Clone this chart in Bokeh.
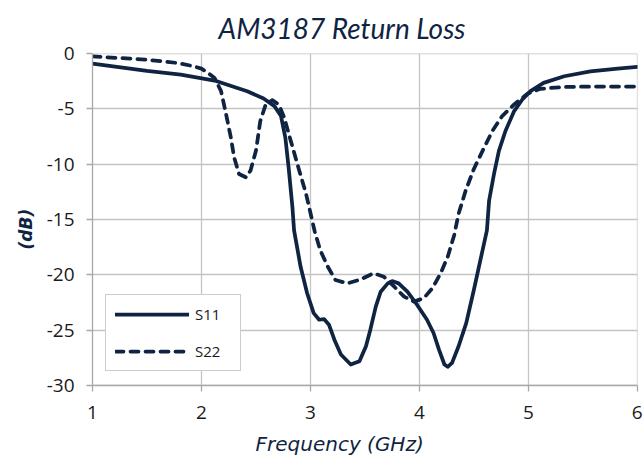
from bokeh.plotting import figure
from bokeh.models import Range1d, FixedTicker, Legend, LegendItem, Title
from bokeh.embed import file_html
from bokeh.resources import INLINE

# ---- data ----
s11_freq = [1.0, 1.5, 1.81, 2.12, 2.42, 2.57, 2.67, 2.73, 2.77, 2.80, 2.835, 2.85,
            2.91, 2.97, 3.03, 3.08, 3.125, 3.17, 3.22, 3.28, 3.37, 3.45, 3.51,
            3.55, 3.60, 3.645, 3.71, 3.75, 3.81, 3.89, 3.98, 4.07, 4.13, 4.18,
            4.23, 4.26, 4.30, 4.36, 4.43, 4.50, 4.56, 4.62, 4.64, 4.685, 4.73,
            4.79, 4.87, 4.945, 5.02, 5.14, 5.33, 5.57, 5.82, 6.0]
s11_db = [-0.9, -1.56, -1.9, -2.43, -3.39, -4.05, -4.74, -5.64, -7.59, -10.3, -13.9, -15.98,
          -19.28, -21.67, -23.47, -24.07, -24.01, -24.52, -25.87, -27.22, -28.12, -27.82, -26.47,
          -24.97, -22.88, -21.53, -20.78, -20.57, -20.78, -21.53, -22.73, -24.07, -25.27, -26.77,
          -28.12, -28.33, -27.97, -26.47, -24.37, -21.38, -18.68, -15.98, -13.28, -10.88, -8.79,
          -6.99, -5.19, -4.14, -3.39, -2.64, -2.04, -1.59, -1.35, -1.2]

s22_freq = [1.0, 1.5, 1.78, 1.93, 2.0, 2.06, 2.12, 2.18, 2.22, 2.27, 2.30, 2.345, 2.41,
            2.45, 2.50, 2.54, 2.59, 2.65, 2.71, 2.76, 2.82, 2.88, 2.96, 3.04, 3.09,
            3.16, 3.23, 3.34, 3.46, 3.58, 3.675, 3.77, 3.86, 3.95, 4.04, 4.12, 4.195,
            4.26, 4.32, 4.36, 4.425, 4.50, 4.58, 4.67, 4.76, 4.87, 4.99, 5.11, 5.33,
            5.63, 6.0]
s22_db = [-0.24, -0.54, -0.84, -1.14, -1.35, -1.74, -2.19, -3.39, -5.19, -7.59, -9.39, -10.88, -11.19,
          -10.58, -8.79, -6.09, -4.59, -4.2, -4.59, -5.79, -7.89, -9.98, -12.68, -16.1, -17.78,
          -19.28, -20.48, -20.78, -20.42, -19.87, -20.18, -21.08, -21.98, -22.43, -22.12, -21.22, -19.87,
          -18.38, -16.4, -14.48, -12.38, -10.43, -8.79, -6.99, -5.64, -4.59, -3.63, -3.18, -3.0,
          -2.97, -2.97]

x_ticks = [1, 2, 3, 4, 5, 6]
y_ticks = [0, -5, -10, -15, -20, -25, -30]
y_tick_labels = ["0", "-5", "-10", "-15", "-20", "-25", "-30"]
series_names = ["S11", "S22"]

title_text = "AM3187 Return Loss"
x_label = "Frequency (GHz)"
y_label = "(dB)"

NAVY = "#0f2442"
GRID = "#c4c4c4"
AXIS = "#a8a8a8"

p = figure(width=643, height=464, output_backend="svg", toolbar_location=None,
           x_range=Range1d(1, 6.002), y_range=Range1d(-30.02, 0.02),
           min_border_left=92, min_border_right=6, min_border_top=52,
           min_border_bottom=78)
p.outline_line_color = None
p.background_fill_color = "white"
p.border_fill_color = "white"

for ax in (p.xaxis, p.yaxis):
    ax.axis_line_color = AXIS
    ax.axis_line_width = 1.3
    ax.major_tick_line_color = AXIS
    ax.major_tick_line_width = 1.3
    ax.major_tick_out = 6
    ax.major_tick_in = 0
    ax.minor_tick_line_color = None
    ax.major_label_text_font = "Open Sans"
    ax.major_label_text_font_size = "19px"
    ax.major_label_text_color = "#1a1a1a"

p.xaxis.ticker = FixedTicker(ticks=x_ticks)
p.yaxis.ticker = FixedTicker(ticks=y_ticks)
p.yaxis.major_label_overrides = {t: s for t, s in zip(y_ticks, y_tick_labels)}
p.xaxis.major_label_standoff = 14
p.yaxis.major_label_standoff = 12

p.xgrid.ticker = FixedTicker(ticks=x_ticks)
p.ygrid.ticker = FixedTicker(ticks=y_ticks)
p.grid.grid_line_color = GRID
p.grid.grid_line_width = 1.3

r1 = p.line(s11_freq, s11_db, line_color=NAVY, line_width=3.75, line_join="round", line_cap="round")
r2 = p.line(s22_freq, s22_db, line_color=NAVY, line_width=3.75, line_dash="8 7", line_join="round", line_cap="round")

legend = Legend(items=[LegendItem(label=series_names[0], renderers=[r1]),
                       LegendItem(label=series_names[1], renderers=[r2])],
                location=(13, 14), orientation="vertical")
legend.border_line_color = "#9a9a9a"
legend.border_line_width = 1
legend.background_fill_color = "white"
legend.background_fill_alpha = 1
legend.padding = 9
legend.margin = 0
legend.spacing = 17
legend.glyph_width = 74
legend.glyph_height = 20
legend.label_standoff = 6
legend.label_width = 36
legend.label_text_font = "Open Sans"
legend.label_text_font_size = "15px"
legend.label_text_color = "#1a1a1a"
p.add_layout(legend, "center")

# title and axis labels as Title annotations
p.add_layout(Title(text=title_text, align="left", offset=126, standoff=17,
                   text_font="Lato", text_font_size="28px", text_font_style="italic",
                   text_color=NAVY), "above")
p.add_layout(Title(text=x_label, align="left", offset=163, standoff=17,
                   text_font="DejaVu Sans", text_font_size="20px", text_font_style="italic",
                   text_color=NAVY), "below")
p.add_layout(Title(text=y_label, align="left", offset=136, standoff=16,
                   text_font="DejaVu Sans", text_font_size="17px", text_font_style="bold italic",
                   text_color=NAVY), "left")

open("out.html", "w").write(file_html(p, INLINE))
